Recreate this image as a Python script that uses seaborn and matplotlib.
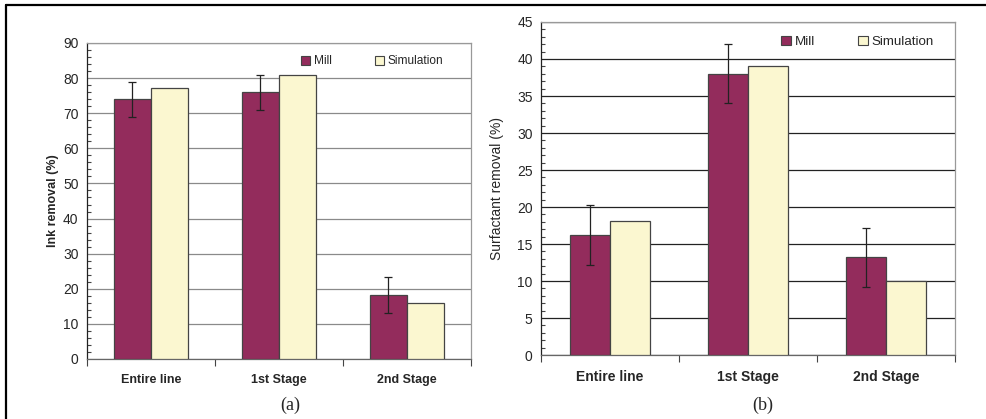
import pandas as pd
import seaborn as sns
import matplotlib.pyplot as plt
from matplotlib.patches import Patch
from matplotlib.lines import Line2D

# Datos
etapas = ['Entire line', '1st Stage', '2nd Stage']
series = ['Mill', 'Simulation']

tinta_mill = [74, 76, 18.3]
tinta_sim = [77.3, 81, 16]
tinta_err = [5, 5, 5.1]

surf_mill = [16.2, 38, 13.2]
surf_sim = [18.1, 39, 10]
surf_err = [4.1, 4, 4]

colores = ['#932c5c', '#fbf7d0']


def tabla(mill, sim):
    return pd.DataFrame({
        'stage': etapas * 2,
        'source': ['Mill'] * 3 + ['Simulation'] * 3,
        'value': mill + sim,
    })


sns.set_style('white')
plt.rcParams['font.family'] = ['Liberation Sans', 'DejaVu Sans']

fig = plt.figure(figsize=(9.87, 4.19), dpi=100)
ax_a = fig.add_axes([0.0881, 0.1432, 0.3891, 0.7542])
ax_b = fig.add_axes([0.5481, 0.1527, 0.4195, 0.7948])


def panel(ax, mill, sim, err, ymax, paso, menor, ylabel, fs_y, fs_x, fs_leg,
          grid_color, label_bold, label_x, leg_x, col_sp):
    sns.barplot(data=tabla(mill, sim), x='stage', y='value', hue='source',
                palette=colores, saturation=1, width=0.58, gap=0,
                edgecolor='#444444', linewidth=0.9, errorbar=None,
                legend=False, ax=ax, zorder=3)
    barras = ax.containers[0]
    xs = [b.get_x() + b.get_width() / 2 for b in barras]
    ax.errorbar(xs, mill, yerr=err, fmt='none', ecolor='#222222',
                elinewidth=0.9, capsize=3, capthick=0.9, zorder=4)

    ax.set_ylim(0, ymax)
    ax.set_xlim(-0.5, 2.5)
    ax.set_yticks(range(0, ymax + 1, paso))
    ax.set_yticks([v * menor for v in range(int(ymax / menor) + 1)], minor=True)
    ax.tick_params(axis='y', which='major', direction='out', length=4, width=0.8,
                   color='#222222', labelsize=fs_y, pad=2)
    ax.tick_params(axis='y', which='minor', direction='in', length=3, width=0.8,
                   color='#444444', left=True)
    ax.set_xticks([-0.5, 0.5, 1.5, 2.5])
    ax.set_xticklabels([])
    ax.set_xticks([0, 1, 2], minor=True)
    ax.set_xticklabels(etapas, minor=True, fontweight='bold', fontsize=fs_x)
    ax.tick_params(axis='x', which='major', direction='out', length=5, width=0.8,
                   color='#444444', bottom=True)
    ax.tick_params(axis='x', which='minor', length=0, pad=11)

    ax.yaxis.grid(True, color=grid_color, linewidth=0.9, zorder=0)
    ax.set_axisbelow(True)
    for lado in ['top', 'right']:
        ax.spines[lado].set_color('#999999')
        ax.spines[lado].set_linewidth(0.9)
    ax.spines['left'].set_color('#222222')
    ax.spines['bottom'].set_color('#666666')
    ax.spines['left'].set_linewidth(0.9)
    ax.spines['bottom'].set_linewidth(0.9)

    ax.set_xlabel('')
    ax.set_ylabel(ylabel, fontsize=fs_y - 1 if label_bold else fs_y,
                  fontweight='bold' if label_bold else 'normal')
    ax.yaxis.set_label_coords(label_x, 0.5)

    manijas = [Patch(facecolor=c, edgecolor='#444444', linewidth=0.8, label=s)
               for c, s in zip(colores, series)]
    ax.legend(handles=manijas, ncol=2, frameon=False, fontsize=fs_leg,
              loc='upper left', bbox_to_anchor=(leg_x, 0.995),
              handlelength=0.75, handleheight=0.75, handletextpad=0.3,
              columnspacing=col_sp)


panel(ax_a, tinta_mill, tinta_sim, tinta_err, 90, 10, 2, 'Ink removal (%)',
      10, 9, 8.6, '#8a8a8a', True, -0.073, 0.53, 3.6)
panel(ax_b, surf_mill, surf_sim, surf_err, 45, 5, 1, 'Surfactant removal (%)',
      10, 10, 9.6, '#222222', False, -0.09, 0.55, 3.2)

fig.text(0.294, 0.033, '(a)', ha='center', va='center', fontsize=13,
         family=['Liberation Serif', 'DejaVu Serif'])
fig.text(0.773, 0.033, '(b)', ha='center', va='center', fontsize=13,
         family=['Liberation Serif', 'DejaVu Serif'])

# marco exterior (solo arriba e izquierda)
fig.add_artist(Line2D([6 / 987, 6 / 987], [0, 1 - 5 / 419], color='black',
                      linewidth=1.6, transform=fig.transFigure))
fig.add_artist(Line2D([6 / 987, 1], [1 - 5 / 419, 1 - 5 / 419], color='black',
                      linewidth=1.6, transform=fig.transFigure))

fig.savefig('out.png', dpi=100)
